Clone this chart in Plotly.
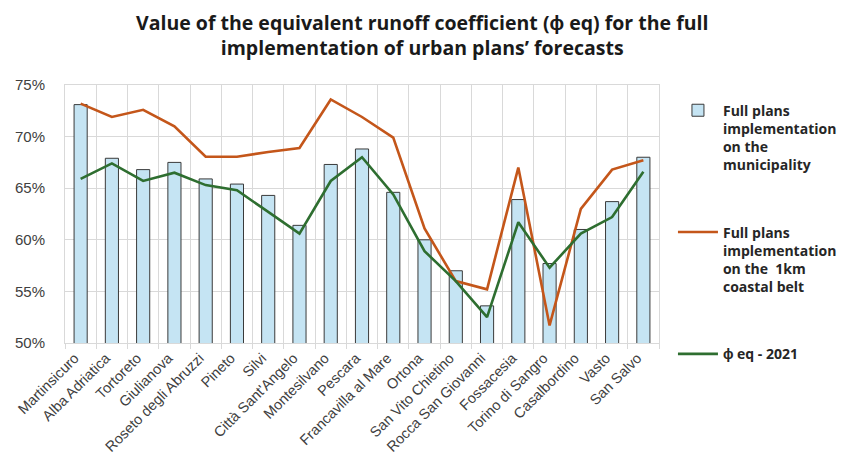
import plotly.graph_objects as go

categories = ["Martinsicuro", "Alba Adriatica", "Tortoreto", "Giulianova", "Roseto degli Abruzzi",
              "Pineto", "Silvi", "Città Sant'Angelo", "Montesilvano", "Pescara",
              "Francavilla al Mare", "Ortona", "San Vito Chietino", "Rocca San Giovanni",
              "Fossacesia", "Torino di Sangro", "Casalbordino", "Vasto", "San Salvo"]

municipality = [73.1, 67.9, 66.8, 67.5, 65.9, 65.4, 64.3, 61.4, 67.3, 68.8,
                64.6, 60.0, 57.0, 53.6, 63.9, 57.7, 61.0, 63.7, 68.0]

coastal_belt = [73.2, 71.9, 72.6, 71.0, 68.05, 68.05, 68.5, 68.9, 73.6, 71.9,
                69.9, 61.1, 56.0, 55.2, 67.0, 51.7, 63.0, 66.8, 67.7]

phi_2021 = [65.9, 67.4, 65.7, 66.5, 65.3, 64.8, 62.7, 60.6, 65.7, 68.0,
            64.4, 58.9, 56.0, 52.5, 61.7, 57.3, 60.6, 62.2, 66.6]

y_ticks = [50, 55, 60, 65, 70, 75]
y_tick_labels = ["50%", "55%", "60%", "65%", "70%", "75%"]

title_text = "<b>Value of the equivalent runoff coefficient (ϕ eq) for the full<br>implementation of urban plans’ forecasts</b>"
name_bar = "Full plans<br>implementation<br>on the<br>municipality"
name_orange = "Full plans<br>implementation<br>on the  1km<br>coastal belt"
name_green = "ϕ eq - 2021"

fig = go.Figure()
fig.add_trace(go.Bar(
    x=categories, y=municipality, name=name_bar,
    marker=dict(color="#c5e4f3", line=dict(color="#3a3a3a", width=1)),
    width=0.42, legendgroup="a",
))
fig.add_trace(go.Scatter(
    x=categories, y=coastal_belt, name=name_orange, mode="lines",
    line=dict(color="#c4561a", width=2.6), legendgroup="b",
))
fig.add_trace(go.Scatter(
    x=categories, y=phi_2021, name=name_green, mode="lines",
    line=dict(color="#2e6e30", width=2.6), legendgroup="c",
))

fig.add_annotation(
    text=title_text, xref="paper", yref="paper",
    x=(414 - 57) / 594, y=1 + (77 - 27) / 258,
    xanchor="center", yanchor="middle", showarrow=False, align="center",
    font=dict(family="Open Sans, sans-serif", size=19.5, color="#1a1a1a"),
)

fig.update_layout(
    width=846, height=456,
    margin=dict(l=57, r=195, t=77, b=121, autoexpand=False),
    paper_bgcolor="white", plot_bgcolor="white",
    font=dict(family="Liberation Sans, Arial, sans-serif", color="#404040"),
    showlegend=True,
    legend=dict(
        x=0.786, xref="container", xanchor="left",
        y=0.81, yref="container", yanchor="top",
        font=dict(family="Open Sans, sans-serif", size=14, color="#262626", weight="bold"),
        traceorder="grouped", tracegroupgap=46, valign="top",
        itemwidth=40, bgcolor="rgba(0,0,0,0)", maxheight=420,
    ),
    bargap=0.58,
)

fig.update_xaxes(
    type="category", tickangle=-45, tickson="boundaries", automargin=False,
    showgrid=True, gridcolor="#d9d9d9", gridwidth=1,
    showline=True, linecolor="#d9d9d9", mirror=True,
    ticks="outside", ticklen=5, tickcolor="#d9d9d9",
    tickfont=dict(size=14.5, color="#404040"),
    ticklabelshift=-6,
)
fig.update_yaxes(
    range=[50, 75], tickvals=y_ticks, ticktext=y_tick_labels, automargin=False,
    showgrid=True, gridcolor="#d9d9d9", gridwidth=1,
    showline=True, linecolor="#d9d9d9", mirror=True,
    tickfont=dict(size=15, color="#404040"), zeroline=False,
    ticklabelstandoff=16,
)

fig.write_html("out.html")
